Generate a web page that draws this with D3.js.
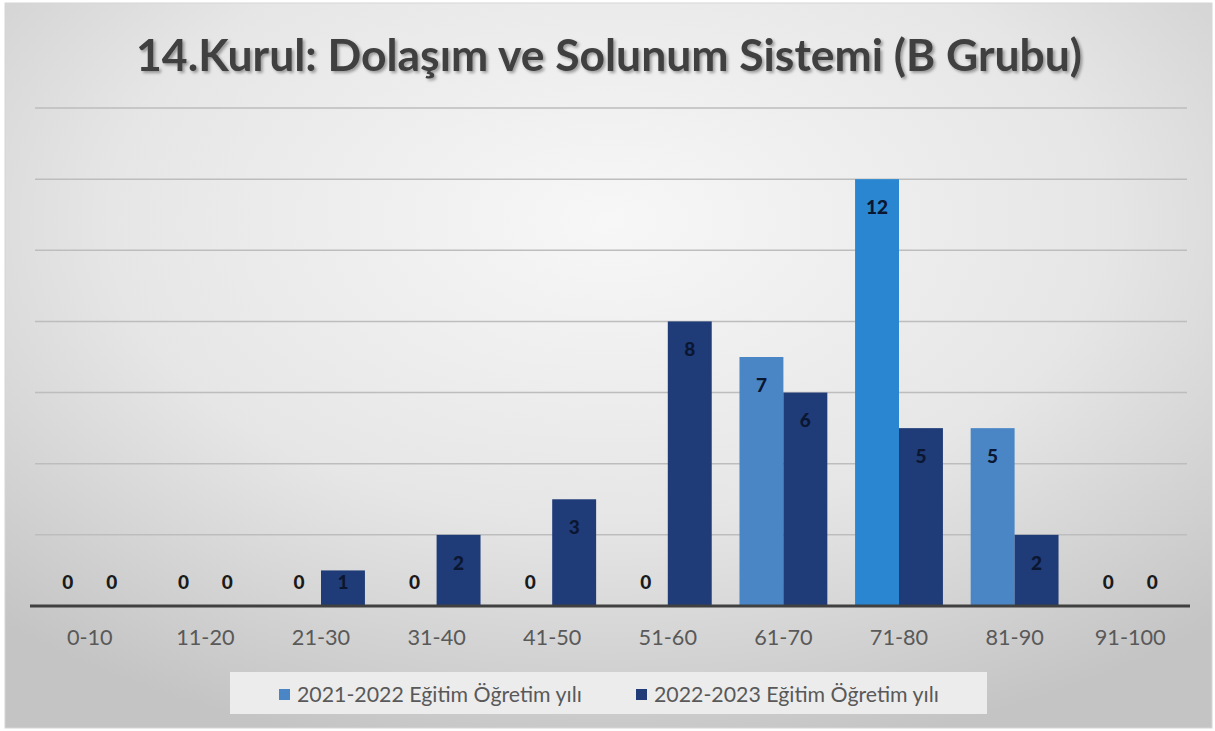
<!DOCTYPE html>
<html>
<head>
<meta charset="utf-8">
<script src="https://cdn.jsdelivr.net/npm/d3@7"></script>
<style>
  body { margin: 0; background: #ffffff; }
  svg { display: block; }
</style>
</head>
<body>
<div id="chart"></div>
<script>
// Data
const categories = ["0-10", "11-20", "21-30", "31-40", "41-50", "51-60", "61-70", "71-80", "81-90", "91-100"];
const seriesNames = ["2021-2022 Eğitim Öğretim yılı", "2022-2023 Eğitim Öğretim yılı"];
const values2021 = [0, 0, 0, 0, 0, 0, 7, 12, 5, 0];
const values2022 = [0, 0, 1, 2, 3, 8, 6, 5, 2, 0];
const yTicks = [0, 2, 4, 6, 8, 10, 12, 14];

const width = 1215, height = 731;
const margin = { top: 108, right: 27, bottom: 125, left: 32 };
const font = "Lato, 'Open Sans', sans-serif";

const svg = d3.select("#chart").append("svg")
    .attr("width", width)
    .attr("height", height);

// Background gradient
const defs = svg.append("defs");
const grad = defs.append("radialGradient")
    .attr("id", "bg")
    .attr("cx", "50%").attr("cy", "30%").attr("r", "75%");
grad.append("stop").attr("offset", "0%").attr("stop-color", "#f7f7f7");
grad.append("stop").attr("offset", "55%").attr("stop-color", "#e6e6e6");
grad.append("stop").attr("offset", "100%").attr("stop-color", "#c4c4c4");

const shadow = defs.append("filter").attr("id", "shadow")
    .attr("x", "-5%").attr("y", "-20%").attr("width", "110%").attr("height", "150%");
shadow.append("feDropShadow")
    .attr("dx", 2).attr("dy", 2).attr("stdDeviation", 1.5)
    .attr("flood-color", "#000").attr("flood-opacity", 0.35);

svg.append("rect")
    .attr("x", 5).attr("y", 3)
    .attr("width", width - 8).attr("height", height - 6)
    .attr("fill", "url(#bg)")
    .attr("stroke", "#d6d6d6");

// helper: scale a text's font size so it is w pixels wide
function fitWidth(sel, w) {
    const fs = +sel.attr("font-size");
    const tw = sel.node().getComputedTextLength();
    const nfs = fs * w / tw;
    sel.attr("font-size", nfs);
    return nfs;
}

// Scales
const x0 = d3.scaleBand()
    .domain(categories)
    .range([margin.left, width - margin.right])
    .paddingInner(0.24)
    .paddingOuter(0.12);

const x1 = d3.scaleBand()
    .domain([0, 1])
    .range([0, x0.bandwidth()]);

const y = d3.scaleLinear()
    .domain([0, 14])
    .range([height - margin.bottom, margin.top]);

// Gridlines
svg.append("g")
    .selectAll("line")
    .data(yTicks.filter(d => d > 0))
    .enter().append("line")
    .attr("x1", 35)
    .attr("x2", 1187)
    .attr("y1", d => y(d))
    .attr("y2", d => y(d))
    .attr("stroke", "#bdbdbd")
    .attr("stroke-width", 1.5);

// Title
const title = svg.append("text")
    .attr("x", 609)
    .attr("y", 71)
    .attr("text-anchor", "middle")
    .attr("font-family", font)
    .attr("font-weight", "bold")
    .attr("font-size", 40)
    .attr("fill", "#404040")
    .attr("filter", "url(#shadow)")
    .text("14.Kurul: Dolaşım ve Solunum Sistemi (B Grubu)");
fitWidth(title, 946);

// Bars
const colors2021 = ["#4a86c5", "#4a86c5", "#4a86c5", "#4a86c5", "#4a86c5", "#4a86c5", "#4a86c5", "#2a86d0", "#4a86c5", "#4a86c5"];
const color2022 = "#1f3b78";

const rows = categories.map((c, i) => ({ cat: c, vals: [values2021[i], values2022[i]], i: i }));

const groups = svg.append("g")
    .selectAll("g")
    .data(rows)
    .enter().append("g")
    .attr("transform", d => `translate(${x0(d.cat)},0)`);

groups.selectAll("rect")
    .data(d => d.vals.map((v, s) => ({ v: v, s: s, i: d.i })))
    .enter().append("rect")
    .attr("x", d => x1(d.s))
    .attr("y", d => y(d.v))
    .attr("width", x1.bandwidth())
    .attr("height", d => y(0) - y(d.v))
    .attr("fill", d => d.s === 0 ? colors2021[d.i] : color2022);

// Value labels
groups.selectAll("text")
    .data(d => d.vals.map((v, s) => ({ v: v, s: s })))
    .enter().append("text")
    .attr("x", d => x1(d.s) + x1.bandwidth() / 2)
    .attr("y", d => Math.min(y(d.v) + 28, y(0) - 24))
    .attr("dy", "0.35em")
    .attr("text-anchor", "middle")
    .attr("font-family", font)
    .attr("font-weight", 900)
    .attr("font-size", 19)
    .attr("fill", d => d.v > 0 ? "#0b1730" : "#1a1a1a")
    .text(d => d.v);

// X axis
const xAxis = svg.append("g")
    .attr("transform", `translate(0,${y(0)})`)
    .call(d3.axisBottom(x0).tickSize(0).tickPadding(24));
xAxis.select(".domain")
    .attr("d", "M30,0H1190")
    .attr("stroke", "#404040")
    .attr("stroke-width", 3);
const tickText = xAxis.selectAll("text")
    .attr("font-family", font)
    .attr("font-size", 20)
    .attr("fill", "#595959");
// size from the widest label
const lastTick = tickText.filter(d => d === "91-100");
const axisFs = fitWidth(lastTick, 71);
tickText.attr("font-size", axisFs);

// Legend
const legend = svg.append("g");
legend.append("rect")
    .attr("x", 230).attr("y", 672)
    .attr("width", 757).attr("height", 42)
    .attr("fill", "#ececec");

const legendX = [279, 636];
const items = legend.selectAll("g")
    .data(seriesNames)
    .enter().append("g")
    .attr("transform", (d, i) => `translate(${legendX[i]},694)`);

items.append("rect")
    .attr("x", 0).attr("y", -5)
    .attr("width", 11).attr("height", 11)
    .attr("fill", (d, i) => i === 0 ? "#4a86c5" : color2022);

const legendText = items.append("text")
    .attr("x", 18)
    .attr("y", 1)
    .attr("dy", "0.35em")
    .attr("font-family", font)
    .attr("font-size", 18)
    .attr("fill", "#595959")
    .text(d => d);
const legendFs = fitWidth(d3.select(legendText.node()), 285);
legendText.attr("font-size", legendFs);
</script>
</body>
</html>
